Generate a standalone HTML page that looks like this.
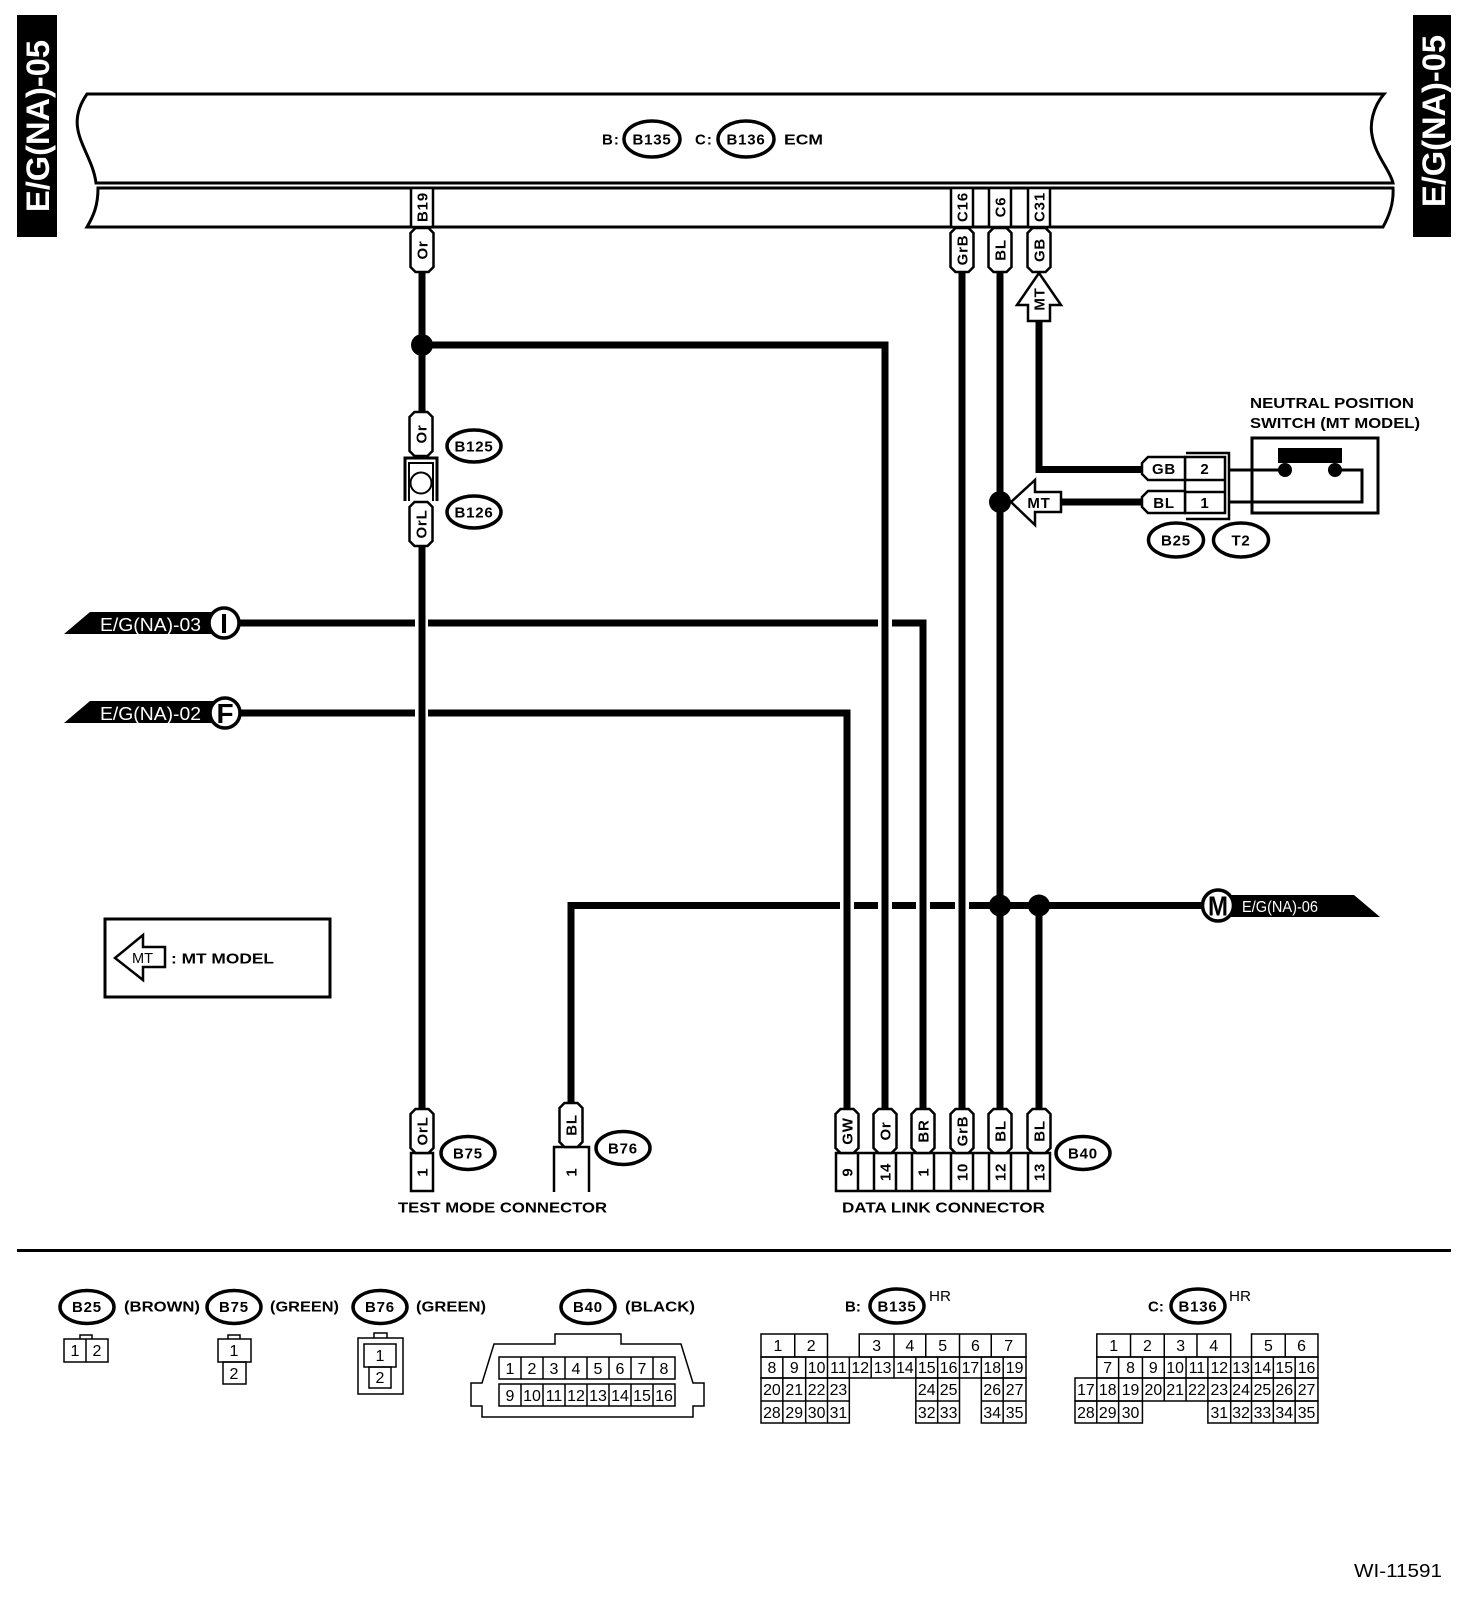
<!DOCTYPE html>
<html><head><meta charset="utf-8"><style>
html,body{margin:0;padding:0;background:#fff}
svg{display:block}
text{font-family:"Liberation Sans",sans-serif;fill:#000}
.b{font-weight:bold;font-size:15px;text-anchor:middle;letter-spacing:.8px}
.r{font-size:15px;font-weight:bold;text-anchor:middle;letter-spacing:.8px}
.n{font-size:16px;text-anchor:middle}
.l{font-size:15px;font-weight:bold}
.w{fill:#fff}
.o{fill:#fff;stroke:#000;stroke-width:3.5}
.g{fill:none;stroke:#000;stroke-width:1.5}
.t{fill:#fff;stroke:#000;stroke-width:2.5}
</style></head><body>
<svg width="1472" height="1600" viewBox="0 0 1472 1600" xmlns="http://www.w3.org/2000/svg">
<defs><path id="p" class="t" d="M-11.5,-17 L-6.5,-22 L6.5,-22 L11.5,-17 L11.5,17 L6.5,22 L-6.5,22 L-11.5,17Z"/></defs>
<rect x="17" y="15" width="40" height="222"/>
<rect x="1413" y="15" width="38" height="222"/>
<text class="w" transform="translate(49,212) rotate(-90)" font-size="32" font-weight="bold" textLength="172" lengthAdjust="spacingAndGlyphs">E/G(NA)-05</text>
<text class="w" transform="translate(1445,207) rotate(-90)" font-size="32" font-weight="bold" textLength="172" lengthAdjust="spacingAndGlyphs">E/G(NA)-05</text>

<!-- ECM -->
<g fill="none" stroke="#000" stroke-width="3">
<path d="M87,94 H1384 C1372,108 1370,125 1372,135 C1375,155 1390,170 1393,183 H96 C92,150 62,130 87,94Z"/>
<path d="M98,188 H1393 C1394,205 1388,218 1383,227 H87 C94,215 98,205 98,188Z"/>
</g>
<ellipse class="o" cx="652" cy="139" rx="28" ry="18"/><ellipse class="o" cx="746" cy="139" rx="28" ry="18"/>
<text class="b" x="652" y="144.500">B135</text><text class="b" x="746" y="144.500">B136</text>
<text class="l" x="602" y="144.500" letter-spacing="1">B:</text><text class="l" x="695" y="144.500" letter-spacing="1">C:</text><text class="l" x="784" y="144.500" textLength="39" lengthAdjust="spacingAndGlyphs">ECM</text>

<!-- wires -->
<g fill="none" stroke="#000" stroke-width="7">
<path d="M422,272 V413 M422,545 V1110"/>
<path d="M422,345 H885 V1110"/>
<path d="M240,623 H415 M428,623 H878 M892,623 H923 V1110"/>
<path d="M240,713 H415 M428,713 H847 V1110"/>
<path d="M571,1103 V905.500 H840 M854,905.500 H878 M892,905.500 H916 M930,905.500 H955 M969,905.500 H1204"/>
<path d="M962,272 V1110 M1000,272 V1110 M1039,905 V1110"/>
<path d="M1039,321 V469.500 H1143 M1061,502 H1143"/>
</g>
<circle cx="422" cy="345" r="11"/>
<circle cx="1000" cy="502" r="11"/><circle cx="1000" cy="905.500" r="11"/><circle cx="1039" cy="905.500" r="11"/>

<!-- ECM pin boxes -->
<g class="t"><rect x="411" y="188" width="22" height="39"/><rect x="951" y="188" width="22" height="39"/><rect x="989" y="188" width="22" height="39"/><rect x="1028" y="188" width="22" height="39"/></g>
<use href="#p" x="422" y="250"/><use href="#p" x="962" y="250"/><use href="#p" x="1000" y="250"/><use href="#p" x="1039" y="250"/>
<g>
<text class="r" transform="translate(422,207) rotate(-90)" dy="5.500">B19</text>
<text class="r" transform="translate(962,207) rotate(-90)" dy="5.500">C16</text>
<text class="r" transform="translate(1000,207) rotate(-90)" dy="5.500">C6</text>
<text class="r" transform="translate(1039,207) rotate(-90)" dy="5.500">C31</text>
<text class="r" transform="translate(422,250) rotate(-90)" dy="5.500">Or</text>
<text class="r" transform="translate(962,250) rotate(-90)" dy="5.500">GrB</text>
<text class="r" transform="translate(1000,250) rotate(-90)" dy="5.500">BL</text>
<text class="r" transform="translate(1039,250) rotate(-90)" dy="5.500">GB</text>
</g>

<!-- MT arrows -->
<path class="t" d="M1039,273 L1061,305 H1050 V321 H1028 V305 H1017Z"/>
<text class="r" transform="translate(1039,299) rotate(-90)" dy="5.500">MT</text>
<path class="t" d="M1011,502 L1035,480 V492 H1061 V512 H1035 V525Z"/>
<text class="b" x="1039" y="508">MT</text>

<!-- Neutral switch -->
<text class="l" x="1250" y="408" textLength="164" lengthAdjust="spacingAndGlyphs">NEUTRAL POSITION</text>
<text class="l" x="1250" y="428" textLength="170" lengthAdjust="spacingAndGlyphs">SWITCH (MT MODEL)</text>
<rect x="1252" y="438" width="126" height="75" fill="none" stroke="#000" stroke-width="3"/>
<rect x="1278" y="448" width="64" height="15"/>
<circle cx="1285" cy="470" r="7"/><circle cx="1335" cy="470" r="7"/>
<path d="M1230,470 H1285 M1335,470 H1362 V502 H1230" fill="none" stroke="#000" stroke-width="3"/>
<path d="M1186,453 H1229 V519 H1186" fill="none" stroke="#000" stroke-width="2.500"/>
<path class="t" d="M1185,457 H1225 V513 H1185Z"/>
<path d="M1185,480 H1225 M1185,492 H1225" stroke="#000" stroke-width="2.500"/>
<path class="t" d="M1148,457 H1185 V480 H1148 L1142,474 V463Z M1148,491 H1185 V513 H1148 L1142,507 V497Z"/>
<text class="b" x="1164" y="474">GB</text><text class="b" x="1164" y="508">BL</text>
<text class="b" x="1205" y="474">2</text><text class="b" x="1205" y="508">1</text>
<ellipse class="o" cx="1176" cy="540" rx="27.500" ry="17"/><ellipse class="o" cx="1241" cy="540" rx="27.500" ry="17"/>
<text class="b" x="1176" y="545.500">B25</text><text class="b" x="1241" y="545.500">T2</text>

<!-- B125/B126 -->
<use href="#p" x="421" y="434"/><use href="#p" x="421" y="524"/>
<path d="M405,501 V458 H437 V501" fill="none" stroke="#000" stroke-width="3"/>
<path d="M409,501 V463 H433 V501" fill="none" stroke="#000" stroke-width="2"/>
<circle cx="421" cy="483" r="10.500" fill="#fff" stroke="#000" stroke-width="2"/>
<text class="r" transform="translate(421,434) rotate(-90)" dy="5.500">Or</text>
<text class="r" transform="translate(421,524) rotate(-90)" dy="5.500">OrL</text>
<ellipse class="o" cx="474" cy="446" rx="27" ry="16"/><ellipse class="o" cx="474" cy="512" rx="27" ry="16"/>
<text class="b" x="474" y="451.500">B125</text><text class="b" x="474" y="517.500">B126</text>

<!-- tags -->
<path d="M64,634 L90,612 H225 V634Z"/>
<path d="M64,723 L90,701 H225 V723Z"/>
<path d="M1218,895 H1354 L1380,917 H1218Z"/>
<text class="w" x="100" y="631" font-size="18.500" textLength="101" lengthAdjust="spacingAndGlyphs">E/G(NA)-03</text>
<text class="w" x="100" y="720" font-size="18.500" textLength="101" lengthAdjust="spacingAndGlyphs">E/G(NA)-02</text>
<text class="w" x="1242" y="912" font-size="16" textLength="76" lengthAdjust="spacingAndGlyphs">E/G(NA)-06</text>
<circle cx="224" cy="623" r="15" class="o"/><circle cx="225" cy="713" r="15" class="o"/><circle cx="1218" cy="905.500" r="15.500" class="o"/>
<text x="224" y="633" font-size="28" font-weight="bold" text-anchor="middle">I</text>
<text x="225" y="723" font-size="28" font-weight="bold" text-anchor="middle">F</text>
<text x="1218" y="915.500" font-size="28" font-weight="bold" text-anchor="middle" textLength="20" lengthAdjust="spacingAndGlyphs">M</text>

<!-- legend -->
<rect x="105" y="919" width="225" height="78" fill="none" stroke="#000" stroke-width="3"/>
<path class="t" d="M115,958 L143,935 V947 H165 V967 H143 V980Z"/>
<text x="132" y="963" font-size="15" textLength="21" lengthAdjust="spacingAndGlyphs">MT</text>
<text class="l" x="171" y="963.500" textLength="103" lengthAdjust="spacingAndGlyphs">: MT MODEL</text>

<!-- Bottom connectors -->
<g class="t">
<rect x="411" y="1153" width="22" height="38"/>
<path d="M554,1192 V1147 H589 V1192" fill="none"/>
<rect x="836" y="1153" width="214" height="38"/>
</g>
<path d="M858,1153 V1191 M874,1153 V1191 M896,1153 V1191 M912,1153 V1191 M934,1153 V1191 M951,1153 V1191 M973,1153 V1191 M989,1153 V1191 M1011,1153 V1191 M1028,1153 V1191" stroke="#000" stroke-width="2.500"/>
<use href="#p" x="422" y="1131"/><use href="#p" x="571" y="1125"/>
<use href="#p" x="847" y="1131"/><use href="#p" x="885" y="1131"/><use href="#p" x="923" y="1131"/><use href="#p" x="962" y="1131"/><use href="#p" x="1000" y="1131"/><use href="#p" x="1039" y="1131"/>
<g>
<text class="r" transform="translate(422,1131) rotate(-90)" dy="5.500">OrL</text>
<text class="r" transform="translate(571,1125) rotate(-90)" dy="5.500">BL</text>
<text class="r" transform="translate(847,1131) rotate(-90)" dy="5.500">GW</text>
<text class="r" transform="translate(885,1131) rotate(-90)" dy="5.500">Or</text>
<text class="r" transform="translate(923,1131) rotate(-90)" dy="5.500">BR</text>
<text class="r" transform="translate(962,1131) rotate(-90)" dy="5.500">GrB</text>
<text class="r" transform="translate(1000,1131) rotate(-90)" dy="5.500">BL</text>
<text class="r" transform="translate(1039,1131) rotate(-90)" dy="5.500">BL</text>
<text class="r" transform="translate(422,1172) rotate(-90)" dy="5.500">1</text>
<text class="r" transform="translate(571,1172) rotate(-90)" dy="5.500">1</text>
<text class="r" transform="translate(847,1172) rotate(-90)" dy="5.500">9</text>
<text class="r" transform="translate(885,1172) rotate(-90)" dy="5.500">14</text>
<text class="r" transform="translate(923,1172) rotate(-90)" dy="5.500">1</text>
<text class="r" transform="translate(962,1172) rotate(-90)" dy="5.500">10</text>
<text class="r" transform="translate(1000,1172) rotate(-90)" dy="5.500">12</text>
<text class="r" transform="translate(1039,1172) rotate(-90)" dy="5.500">13</text>
</g>
<ellipse class="o" cx="468" cy="1153" rx="27" ry="16.500"/><ellipse class="o" cx="623" cy="1148" rx="27" ry="16.500"/><ellipse class="o" cx="1083" cy="1153" rx="27" ry="16.500"/>
<text class="b" x="468" y="1158.500">B75</text><text class="b" x="623" y="1153.500">B76</text><text class="b" x="1083" y="1158.500">B40</text>
<text class="l" x="398" y="1212.500" textLength="209" lengthAdjust="spacingAndGlyphs">TEST MODE CONNECTOR</text>
<text class="l" x="842" y="1212.500" textLength="203" lengthAdjust="spacingAndGlyphs">DATA LINK CONNECTOR</text>

<rect x="17" y="1249" width="1434" height="3"/>

<!-- lower row -->
<ellipse class="o" cx="87" cy="1307" rx="27" ry="16.500"/><ellipse class="o" cx="234" cy="1307" rx="27" ry="16.500"/><ellipse class="o" cx="380" cy="1307" rx="27" ry="16.500"/><ellipse class="o" cx="588" cy="1307" rx="27" ry="16.500"/><ellipse class="o" cx="897" cy="1306" rx="27" ry="17"/><ellipse class="o" cx="1198" cy="1306" rx="27" ry="17"/>
<text class="b" x="87" y="1312">B25</text><text class="b" x="234" y="1312">B75</text><text class="b" x="380" y="1312">B76</text><text class="b" x="588" y="1312">B40</text><text class="b" x="897" y="1311.500">B135</text><text class="b" x="1198" y="1311.500">B136</text>
<text class="l" x="124" y="1311.500" textLength="76" lengthAdjust="spacingAndGlyphs">(BROWN)</text>
<text class="l" x="270" y="1311.500" textLength="69" lengthAdjust="spacingAndGlyphs">(GREEN)</text>
<text class="l" x="416" y="1311.500" textLength="70" lengthAdjust="spacingAndGlyphs">(GREEN)</text>
<text class="l" x="625" y="1311.500" textLength="70" lengthAdjust="spacingAndGlyphs">(BLACK)</text>
<text class="l" x="845" y="1311.500">B:</text><text class="l" x="1148" y="1311.500">C:</text>
<text x="929" y="1301" font-size="15" textLength="22" lengthAdjust="spacingAndGlyphs">HR</text><text x="1229" y="1301" font-size="15" textLength="22" lengthAdjust="spacingAndGlyphs">HR</text>

<g class="g">
<!-- B25 -->
<path d="M80,1339 V1335 H92 V1339"/><rect x="64" y="1339" width="44" height="23"/><path d="M86,1339 V1362"/>
<!-- B75 -->
<path d="M228,1339 V1335 H240 V1339"/><rect x="218" y="1339" width="33" height="23"/><rect x="223" y="1362" width="23" height="22"/>
<!-- B76 -->
<path d="M374,1338 V1333 H387 V1338"/><rect x="358" y="1338" width="45" height="56"/><rect x="364" y="1344" width="32" height="23"/><rect x="369" y="1367" width="22" height="21"/>
<!-- B40 -->
<path d="M555,1344 V1334 H621 V1344 H681 L693,1383 H704 V1406 H693 V1417 H482 V1406 H471 V1383 H482 L494,1344Z"/>
<rect x="499" y="1357" width="176" height="22"/><rect x="499" y="1384" width="176" height="22"/>
<path d="M521,1357 V1379 M543,1357 V1379 M565,1357 V1379 M587,1357 V1379 M609,1357 V1379 M631,1357 V1379 M653,1357 V1379 M521,1384 V1406 M543,1384 V1406 M565,1384 V1406 M587,1384 V1406 M609,1384 V1406 M631,1384 V1406 M653,1384 V1406"/>
</g>
<g class="g" transform="translate(761 0) scale(.9925 1) translate(-761 0)">
<!-- B135 -->
<rect x="761" y="1334" width="67" height="23"/><path d="M795,1334 V1357"/>
<rect x="860" y="1334" width="168" height="23"/><path d="M895,1334 V1357 M927,1334 V1357 M961,1334 V1357 M993,1334 V1357"/>
<rect x="761" y="1357" width="267" height="21"/><path d="M783,1357 V1378 M806,1357 V1378 M828,1357 V1378 M850,1357 V1378 M872,1357 V1378 M895,1357 V1378 M917,1357 V1378 M939,1357 V1378 M961,1357 V1378 M983,1357 V1378 M1005,1357 V1378"/>
<rect x="761" y="1378" width="89" height="45"/><path d="M761,1401 H850 M783,1378 V1423 M806,1378 V1423 M828,1378 V1423"/>
<rect x="917" y="1378" width="44" height="45"/><path d="M917,1401 H961 M939,1378 V1423"/>
<rect x="983" y="1378" width="45" height="45"/><path d="M983,1401 H1028 M1005,1378 V1423"/>
</g>
<g class="g" transform="translate(1075 0) scale(.9917 1) translate(-1076 0)">
<!-- B136 -->
<rect x="1098" y="1334" width="135" height="23"/><path d="M1132,1334 V1357 M1166,1334 V1357 M1199,1334 V1357"/>
<rect x="1254" y="1334" width="67" height="23"/><path d="M1288,1334 V1357"/>
<rect x="1098" y="1357" width="223" height="21"/><path d="M1120,1357 V1378 M1144,1357 V1378 M1166,1357 V1378 M1188,1357 V1378 M1210,1357 V1378 M1233,1357 V1378 M1254,1357 V1378 M1276,1357 V1378 M1298,1357 V1378"/>
<rect x="1076" y="1378" width="245" height="23"/><path d="M1098,1378 V1401 M1120,1378 V1401 M1144,1378 V1401 M1166,1378 V1401 M1188,1378 V1401 M1210,1378 V1401 M1233,1378 V1401 M1254,1378 V1401 M1276,1378 V1401 M1298,1378 V1401"/>
<rect x="1076" y="1401" width="68" height="22"/><path d="M1098,1401 V1423 M1120,1401 V1423"/>
<rect x="1210" y="1401" width="111" height="22"/><path d="M1233,1401 V1423 M1254,1401 V1423 M1276,1401 V1423 M1298,1401 V1423"/>
</g>

<g>
<text class="n" x="75" y="1356">1</text><text class="n" x="97" y="1356">2</text>
<text class="n" x="234" y="1356">1</text><text class="n" x="234" y="1379">2</text>
<text class="n" x="380" y="1361">1</text><text class="n" x="380" y="1383">2</text>
<text class="n" x="510" y="1374">1</text><text class="n" x="532" y="1374">2</text><text class="n" x="554" y="1374">3</text><text class="n" x="576" y="1374">4</text><text class="n" x="598" y="1374">5</text><text class="n" x="620" y="1374">6</text><text class="n" x="642" y="1374">7</text><text class="n" x="664" y="1374">8</text>
<text class="n" x="510" y="1401">9</text><text class="n" x="532" y="1401">10</text><text class="n" x="554" y="1401">11</text><text class="n" x="576" y="1401">12</text><text class="n" x="598" y="1401">13</text><text class="n" x="620" y="1401">14</text><text class="n" x="642" y="1401">15</text><text class="n" x="664" y="1401">16</text>
</g>
<g transform="translate(761 0) scale(.9925 1) translate(-761 0)">
<text class="n" x="778" y="1351">1</text><text class="n" x="811.500" y="1351">2</text><text class="n" x="877.500" y="1351">3</text><text class="n" x="911" y="1351">4</text><text class="n" x="944" y="1351">5</text><text class="n" x="977" y="1351">6</text><text class="n" x="1010.500" y="1351">7</text>
<text class="n" x="772" y="1373">8</text><text class="n" x="794.500" y="1373">9</text><text class="n" x="817" y="1373">10</text><text class="n" x="839" y="1373">11</text><text class="n" x="861" y="1373">12</text><text class="n" x="883.500" y="1373">13</text><text class="n" x="906" y="1373">14</text><text class="n" x="928" y="1373">15</text><text class="n" x="950" y="1373">16</text><text class="n" x="972" y="1373">17</text><text class="n" x="994" y="1373">18</text><text class="n" x="1016.500" y="1373">19</text>
<text class="n" x="772" y="1395">20</text><text class="n" x="794.500" y="1395">21</text><text class="n" x="817" y="1395">22</text><text class="n" x="839" y="1395">23</text><text class="n" x="928" y="1395">24</text><text class="n" x="950" y="1395">25</text><text class="n" x="994" y="1395">26</text><text class="n" x="1016.500" y="1395">27</text>
<text class="n" x="772" y="1418">28</text><text class="n" x="794.500" y="1418">29</text><text class="n" x="817" y="1418">30</text><text class="n" x="839" y="1418">31</text><text class="n" x="928" y="1418">32</text><text class="n" x="950" y="1418">33</text><text class="n" x="994" y="1418">34</text><text class="n" x="1016.500" y="1418">35</text>
</g>
<g transform="translate(1075 0) scale(.9917 1) translate(-1076 0)">
<text class="n" x="1115" y="1351">1</text><text class="n" x="1149" y="1351">2</text><text class="n" x="1182.500" y="1351">3</text><text class="n" x="1216" y="1351">4</text><text class="n" x="1271" y="1351">5</text><text class="n" x="1304.500" y="1351">6</text>
<text class="n" x="1109" y="1373">7</text><text class="n" x="1132" y="1373">8</text><text class="n" x="1155" y="1373">9</text><text class="n" x="1177" y="1373">10</text><text class="n" x="1199" y="1373">11</text><text class="n" x="1221.500" y="1373">12</text><text class="n" x="1243.500" y="1373">13</text><text class="n" x="1265" y="1373">14</text><text class="n" x="1287" y="1373">15</text><text class="n" x="1309.500" y="1373">16</text>
<text class="n" x="1087" y="1395">17</text><text class="n" x="1109" y="1395">18</text><text class="n" x="1132" y="1395">19</text><text class="n" x="1155" y="1395">20</text><text class="n" x="1177" y="1395">21</text><text class="n" x="1199" y="1395">22</text><text class="n" x="1221.500" y="1395">23</text><text class="n" x="1243.500" y="1395">24</text><text class="n" x="1265" y="1395">25</text><text class="n" x="1287" y="1395">26</text><text class="n" x="1309.500" y="1395">27</text>
<text class="n" x="1087" y="1418">28</text><text class="n" x="1109" y="1418">29</text><text class="n" x="1132" y="1418">30</text><text class="n" x="1221.500" y="1418">31</text><text class="n" x="1243.500" y="1418">32</text><text class="n" x="1265" y="1418">33</text><text class="n" x="1287" y="1418">34</text><text class="n" x="1309.500" y="1418">35</text>
</g>

<text x="1354" y="1577" font-size="18" textLength="88" lengthAdjust="spacingAndGlyphs">WI-11591</text>
</svg>
</body></html>
